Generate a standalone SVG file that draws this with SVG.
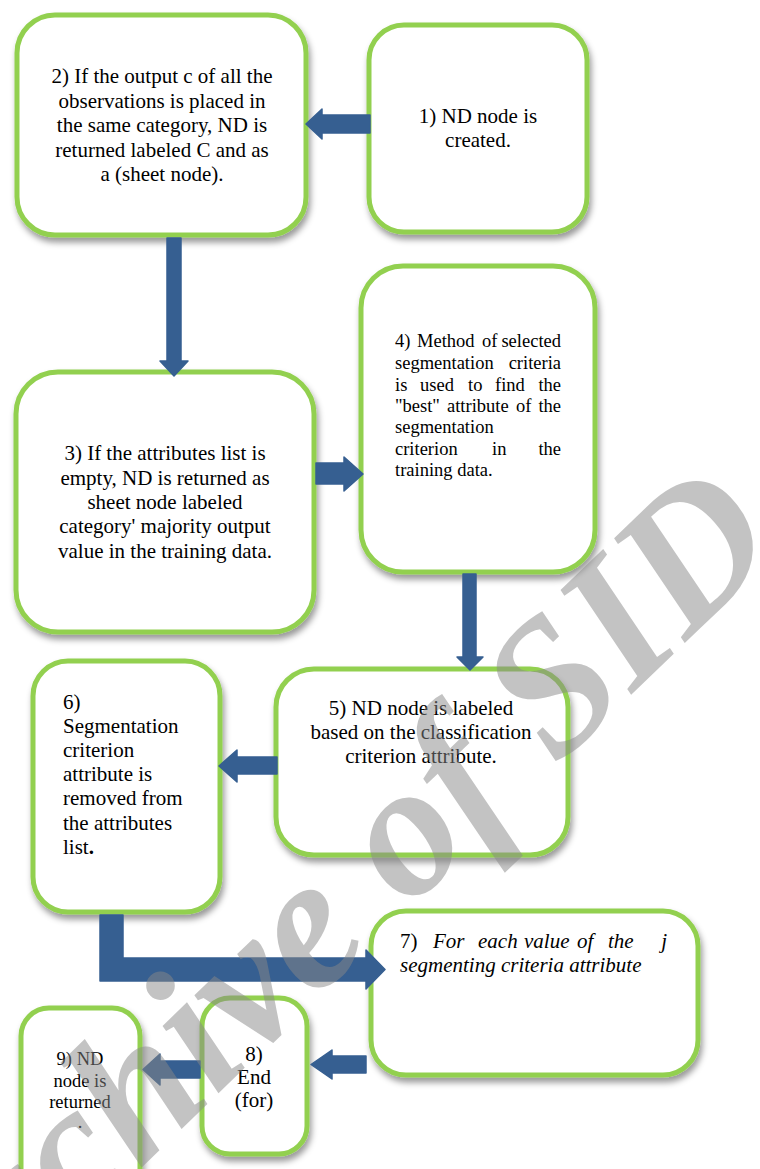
<svg xmlns="http://www.w3.org/2000/svg" width="760" height="1169" viewBox="0 0 760 1169">
<defs>
<filter id="sh" x="-10%" y="-10%" width="125%" height="125%">
<feDropShadow dx="2" dy="5" stdDeviation="3" flood-color="#000" flood-opacity="0.4"/>
</filter>
<style>
.box{fill:#fff;stroke:#92D050;stroke-width:5;filter:url(#sh)}
.t{font-family:"Liberation Serif","Times New Roman",serif;font-size:21px;fill:#000}
.s{font-size:18.5px}
.c{text-anchor:middle}
.e{text-anchor:end}
.i{font-style:italic}
.arr{fill:#365F91;stroke:#365F91;stroke-width:1.5;stroke-linejoin:round}
.wm{font-family:"Liberation Serif","Times New Roman",serif;font-style:italic;font-weight:bold;font-size:190px;fill:#888;fill-opacity:0.5}
</style>
</defs>
<g id="node1">
<rect class="box" x="369" y="25" width="218" height="207" rx="35"/>
<text class="t c" x="478" y="123">1) ND node is</text>
<text class="t c" x="478" y="147">created.</text>
</g>
<g id="node2">
<rect class="box" x="17" y="15" width="289" height="220" rx="38"/>
<text class="t c" x="162" y="83">2) If the output c of all the</text>
<text class="t c" x="162" y="107.5">observations is placed in</text>
<text class="t c" x="162" y="132">the same category, ND is</text>
<text class="t c" x="162" y="156.5">returned labeled C and as</text>
<text class="t c" x="162" y="181">a (sheet node).</text>
</g>
<g id="node3">
<rect class="box" x="16" y="372" width="298" height="260" rx="42"/>
<text class="t c" x="165" y="460">3) If the attributes list is</text>
<text class="t c" x="165" y="484.5">empty, ND is returned as</text>
<text class="t c" x="165" y="509">sheet node labeled</text>
<text class="t c" x="165" y="533">category' majority output</text>
<text class="t c" x="165" y="557.5">value in the training data.</text>
</g>
<g id="node4">
<rect class="box" x="361" y="266" width="234" height="306" rx="42"/>
<text class="t s" y="347"><tspan x="395">4)</tspan><tspan x="417">Method</tspan><tspan x="482">of</tspan></text>
<text class="t s e" x="561" y="347">selected</text>
<text class="t s" x="395" y="369">segmentation</text>
<text class="t s e" x="561" y="369">criteria</text>
<text class="t s" y="391"><tspan x="395">is</tspan><tspan x="420">used</tspan><tspan x="468">to</tspan><tspan x="495">find</tspan></text>
<text class="t s e" x="561" y="391">the</text>
<text class="t s" y="412"><tspan x="395">"best"</tspan><tspan x="447">attribute</tspan><tspan x="516">of</tspan></text>
<text class="t s e" x="561" y="412">the</text>
<text class="t s" x="395" y="433">segmentation</text>
<text class="t s" y="455"><tspan x="395">criterion</tspan><tspan x="492">in</tspan></text>
<text class="t s e" x="561" y="455">the</text>
<text class="t s" x="395" y="476">training data.</text>
</g>
<g id="node5">
<rect class="box" x="276" y="669" width="292" height="186" rx="38"/>
<text class="t c" x="421" y="715">5) ND node is labeled</text>
<text class="t c" x="421" y="739">based on the classification</text>
<text class="t c" x="421" y="763">criterion attribute.</text>
</g>
<g id="node6">
<rect class="box" x="33" y="661" width="187" height="251" rx="35"/>
<text class="t" x="63" y="709">6)</text>
<text class="t" x="63" y="733">Segmentation</text>
<text class="t" x="63" y="757">criterion</text>
<text class="t" x="63" y="781">attribute is</text>
<text class="t" x="63" y="805">removed from</text>
<text class="t" x="63" y="830">the attributes</text>
<text class="t" x="63" y="854">list<tspan font-weight="bold">.</tspan></text>
</g>
<g id="node7">
<rect class="box" x="371" y="911" width="327" height="164" rx="35"/>
<text class="t" y="948"><tspan x="400">7)</tspan><tspan class="i" x="433">For</tspan><tspan class="i" x="478">each</tspan><tspan class="i" x="524">value</tspan><tspan class="i" x="577">of</tspan><tspan class="i" x="608">the</tspan></text>
<text class="t i e" x="667" y="948">j</text>
<text class="t i" x="400" y="972">segmenting criteria attribute</text>
</g>
<g id="node8">
<rect class="box" x="202" y="998" width="105" height="156" rx="28"/>
<text class="t c" x="254" y="1061">8)</text>
<text class="t c" x="254" y="1084">End</text>
<text class="t c" x="254" y="1107">(for)</text>
</g>
<g id="node9">
<rect class="box" x="21" y="1008" width="119" height="190" rx="28"/>
<text class="t s c" x="80" y="1065">9) ND</text>
<text class="t s c" x="80" y="1087">node is</text>
<text class="t s c" x="80" y="1108">returned</text>
<text class="t s c" x="80" y="1128">.</text>
</g>
<g id="connectors">
<polygon class="arr" points="370,115 322,115 322,109 306,124 322,139 322,133 370,133"/>
<polygon class="arr" points="167,238 181,238 181,361 188,361 174,376 160,361 167,361"/>
<polygon class="arr" points="316,463 344,463 344,457 363,474 344,491 344,484 316,484"/>
<polygon class="arr" points="463,574 476,574 476,657 483,657 470,670 457,657 463,657"/>
<polygon class="arr" points="277,757 237,757 237,750 219,766 237,782 237,774 277,774"/>
<polygon class="arr" points="100,915 123,915 123,958 366,958 366,950 385,969.5 366,989 366,981 100,981"/>
<polygon class="arr" points="366,1056 332,1056 332,1050 311,1064.5 332,1079 332,1073 366,1073"/>
<polygon class="arr" points="200,1061 160,1061 160,1054 143,1069.5 160,1085 160,1078 200,1078"/>
</g>
<text class="wm" transform="translate(-66,1368) rotate(-44)">Archive of SID</text>
</svg>
